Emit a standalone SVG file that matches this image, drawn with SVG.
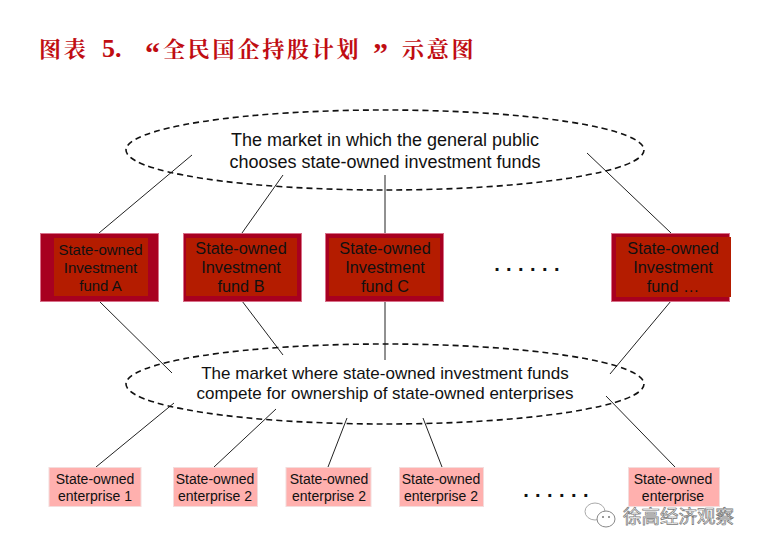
<svg xmlns="http://www.w3.org/2000/svg" width="760" height="549" viewBox="0 0 760 549">
<style>
text{font-family:"Liberation Sans",Arial,sans-serif;fill:#111;text-anchor:middle}
.t{font-family:"Noto Serif CJK SC","Noto Sans CJK SC","Liberation Serif",serif;font-size:22px;font-weight:700;fill:#c00d12;text-anchor:start;letter-spacing:2.8px}
.h{font-size:18px}
.f{font-size:16.300px}
.e{font-size:14px}
.o{fill:#a80020;stroke:#d8708a;stroke-width:1}
.i{fill:#b41c00}
.p{fill:#ffb0ae;stroke:#f4dcdc;stroke-width:1}
.l{stroke:#222;stroke-width:1;fill:none}
.m{fill:none;stroke:#111;stroke-width:1.6;stroke-dasharray:6 4}
.d{font-size:20px;font-weight:700;letter-spacing:6.400px}
</style>
<rect width="760" height="549" fill="#fff"/>
<g id="title">
<text class="t" x="39" y="57">图表</text>
<text class="t" x="102" y="57" style="font-family:'Liberation Serif',serif;letter-spacing:0;font-size:26px">5.</text>
<text class="t" x="145" y="63" style="font-family:'Liberation Serif',serif;letter-spacing:0;font-size:30px">“</text>
<text class="t" x="163" y="57">全民国企持股计划</text>
<text class="t" x="373" y="63" style="font-family:'Liberation Serif',serif;letter-spacing:0;font-size:30px">”</text>
<text class="t" x="402" y="57">示意图</text>
</g>
<g id="connectors">
<line class="l" x1="192" y1="155" x2="99" y2="233"/>
<line class="l" x1="283" y1="175" x2="242" y2="233"/>
<line class="l" x1="385" y1="175" x2="385" y2="233"/>
<line class="l" x1="587" y1="153" x2="671" y2="233"/>
<line class="l" x1="99" y1="301" x2="172" y2="373"/>
<line class="l" x1="242" y1="301" x2="283" y2="355"/>
<line class="l" x1="385" y1="301" x2="385" y2="360"/>
<line class="l" x1="671" y1="301" x2="610" y2="374"/>
<line class="l" x1="174" y1="403" x2="96" y2="467"/>
<line class="l" x1="276" y1="409" x2="214" y2="467"/>
<line class="l" x1="347" y1="418" x2="328" y2="467"/>
<line class="l" x1="423" y1="418" x2="442" y2="467"/>
<line class="l" x1="606" y1="396" x2="675" y2="467"/>
</g>
<g id="market-top">
<ellipse class="m" cx="385" cy="150" rx="259" ry="40"/>
<text class="h" x="385" y="146">The market in which the general public</text>
<text class="h" x="385" y="168">chooses state-owned investment funds</text>
</g>
<g id="market-bottom">
<ellipse class="m" cx="385" cy="384" rx="259" ry="40"/>
<text class="h" x="385" y="379" style="font-size:17px">The market where state-owned investment funds</text>
<text class="h" x="385" y="399" style="font-size:17px">compete for ownership of state-owned enterprises</text>
</g>
<g id="fund-a">
<rect class="o" x="40.500" y="233.500" width="118" height="68"/>
<rect class="i" x="54" y="238" width="94" height="58"/>
<text class="e" x="100.500" y="255" style="font-size:15px">State-owned</text>
<text class="e" x="100.500" y="273" style="font-size:15px">Investment</text>
<text class="e" x="100.500" y="291" style="font-size:15px">fund A</text>
</g>
<g id="fund-b">
<rect class="o" x="183.500" y="233.500" width="118" height="68"/>
<rect class="i" x="186" y="238" width="111" height="58"/>
<text class="f" x="241" y="254">State-owned</text>
<text class="f" x="241" y="273">Investment</text>
<text class="f" x="241" y="292">fund B</text>
</g>
<g id="fund-c">
<rect class="o" x="325.500" y="233.500" width="118" height="68"/>
<rect class="i" x="329" y="238" width="111" height="58"/>
<text class="f" x="385" y="254">State-owned</text>
<text class="f" x="385" y="273">Investment</text>
<text class="f" x="385" y="292">fund C</text>
</g>
<g id="fund-n">
<rect class="o" x="611.500" y="233.500" width="118" height="68"/>
<rect class="i" x="616" y="237" width="115" height="60"/>
<text class="f" x="673" y="254">State-owned</text>
<text class="f" x="673" y="273">Investment</text>
<text class="f" x="673" y="292">fund …</text>
</g>
<text class="d" x="530" y="271">......</text>
<g id="enterprise-1">
<rect class="p" x="49" y="467.500" width="92" height="39"/>
<text class="e" x="95" y="484">State-owned</text>
<text class="e" x="95" y="501">enterprise 1</text>
</g>
<g id="enterprise-2a">
<rect class="p" x="173.500" y="467.500" width="84" height="39"/>
<text class="e" x="215" y="484">State-owned</text>
<text class="e" x="215" y="501">enterprise 2</text>
</g>
<g id="enterprise-2b">
<rect class="p" x="286" y="467.500" width="85" height="39"/>
<text class="e" x="329" y="484">State-owned</text>
<text class="e" x="329" y="501">enterprise 2</text>
</g>
<g id="enterprise-2c">
<rect class="p" x="399.500" y="467.500" width="84" height="39"/>
<text class="e" x="441" y="484">State-owned</text>
<text class="e" x="441" y="501">enterprise 2</text>
</g>
<g id="enterprise-n">
<rect class="p" x="628.500" y="467.500" width="91" height="39"/>
<text class="e" x="673" y="484">State-owned</text>
<text class="e" x="673" y="501">enterprise</text>
</g>
<text class="d" x="559" y="497">......</text>
<g id="watermark">
<ellipse cx="595" cy="511.500" rx="10" ry="8.500" fill="#fff" stroke="#aaa" stroke-width="1"/>
<ellipse cx="606" cy="519" rx="9" ry="8" fill="#fff" stroke="#888" stroke-width="1"/>
<circle cx="603" cy="517" r="1" fill="#777"/>
<circle cx="609" cy="517" r="1" fill="#777"/>
<text x="678.500" y="523" style="font-family:'Noto Sans CJK SC',sans-serif;font-size:18.500px;fill:#fff;stroke:#777;stroke-width:.7">徐高经济观察</text>
</g>
</svg>
